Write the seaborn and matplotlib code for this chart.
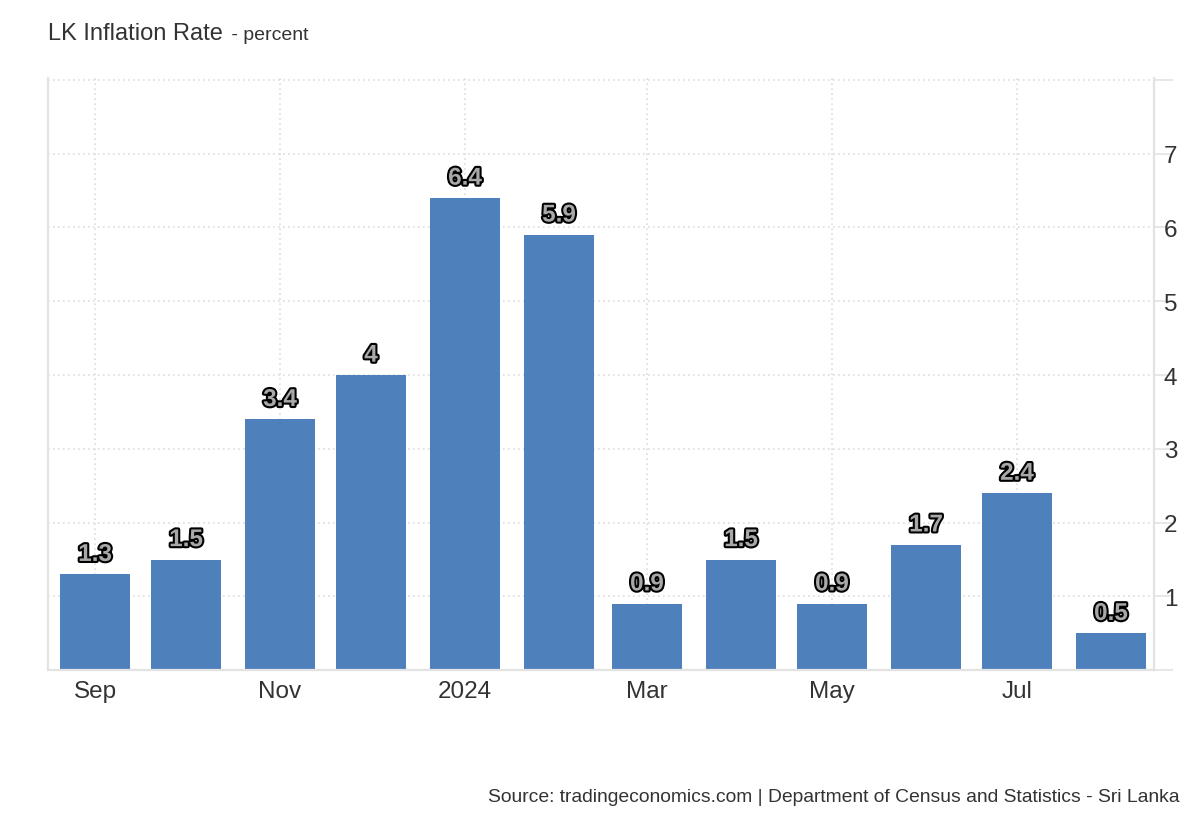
import numpy as np
import pandas as pd
import matplotlib
matplotlib.use("Agg")
import matplotlib.pyplot as plt
import matplotlib.dates as mdates
import matplotlib.patheffects as pe
import seaborn as sns

# --- data ---
months = ["2023-09-01", "2023-10-01", "2023-11-01", "2023-12-01", "2024-01-01", "2024-02-01",
          "2024-03-01", "2024-04-01", "2024-05-01", "2024-06-01", "2024-07-01", "2024-08-01"]
inflation = [1.3, 1.5, 3.4, 4.0, 6.4, 5.9, 0.9, 1.5, 0.9, 1.7, 2.4, 0.5]
tick_dates = ["2023-09-01", "2023-11-01", "2024-01-01", "2024-03-01", "2024-05-01", "2024-07-01"]
tick_labels = ["Sep", "Nov", "2024", "Mar", "May", "Jul"]
y_ticks = [0, 1, 2, 3, 4, 5, 6, 7, 8]
y_labels = ["", "1", "2", "3", "4", "5", "6", "7", ""]

df = pd.DataFrame({"date": mdates.date2num(pd.to_datetime(months)), "value": inflation})

sns.set_theme(style="white")
plt.rcParams["font.family"] = ["Liberation Sans", "DejaVu Sans"]

fig = plt.figure(figsize=(12, 8.2), dpi=100)
ax = fig.add_axes([0.04, 0.1815, 0.9217, 0.7225])

sns.barplot(data=df, x="date", y="value", native_scale=True, color="#4e80bc",
            saturation=1, errorbar=None, width=0.8, linewidth=0, ax=ax)

# value labels with outlined text
labels = [f"{v:g}" for v in inflation]
texts = ax.bar_label(ax.containers[0], labels=labels, padding=6,
                     fontsize=17.5, fontweight="bold", color="#a8a8a8")
for t in texts:
    t.set_path_effects([pe.Stroke(linewidth=3, foreground="black"), pe.Normal()])

# axes
x0 = mdates.date2num(pd.Timestamp("2023-08-16 12:00"))
x1 = mdates.date2num(pd.Timestamp("2024-08-15 05:00"))
ax.set_xlim(x0, x1)
ax.set_ylim(0, 8.03)
ax.set_xticks(mdates.date2num(pd.to_datetime(tick_dates)))
ax.set_xticklabels(tick_labels)
ax.set_yticks(y_ticks)
ax.set_yticklabels(y_labels)
ax.yaxis.tick_right()
ax.set_xlabel("")
ax.set_ylabel("")

grid_c = "#dddddd"
ax.grid(True, axis="both", linestyle=(0, (1, 2)), color=grid_c, linewidth=1.2)
ax.set_axisbelow(True)

spine_c = "#e3e3e3"
for side in ["left", "right", "bottom"]:
    ax.spines[side].set_visible(True)
    ax.spines[side].set_color(spine_c)
    ax.spines[side].set_linewidth(1.6)
ax.spines["top"].set_visible(False)

ax.tick_params(axis="y", which="major", right=True, left=False, length=14, width=1.2,
               color=spine_c, labelsize=17.5, labelcolor="#333333", pad=-7)
ax.tick_params(axis="x", which="major", bottom=False, length=0,
               labelsize=17.5, labelcolor="#333333", pad=7)

# title and source
fig.text(0.04, 0.951, "LK Inflation Rate", fontsize=17, color="#333333", va="baseline")
fig.text(0.188, 0.951, " - percent", fontsize=14, color="#333333", va="baseline")
fig.text(0.983, 0.022, "Source: tradingeconomics.com | Department of Census and Statistics - Sri Lanka",
         fontsize=13.9, color="#333333", ha="right", va="baseline")

fig.savefig("out.png", dpi=100)
